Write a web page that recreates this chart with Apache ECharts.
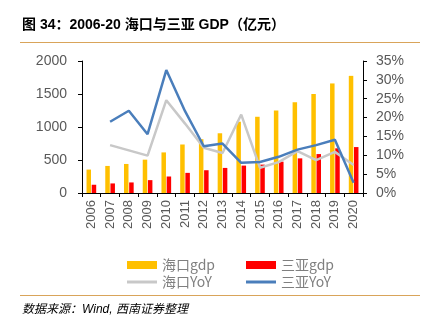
<!DOCTYPE html>
<html><head><meta charset="utf-8">
<script src="https://cdn.jsdelivr.net/npm/echarts@6/dist/echarts.min.js"></script>
<style>html,body{margin:0;padding:0;background:#fff;}#c{width:425px;height:332px;}</style>
</head><body><div id="c"></div>
<script>
const years = ['2006','2007','2008','2009','2010','2011','2012','2013','2014','2015','2016','2017','2018','2019','2020'];
const haikouGdp = [355,410,440,505,615,735,815,905,1080,1155,1250,1375,1500,1660,1775];
const sanyaGdp = [125,145,160,195,250,305,345,380,415,430,475,525,590,677,696];
const haikouYoY = [null,12.7,11.3,9.9,24.6,18.4,12.0,10.6,20.8,6.7,8.2,11.1,8.7,10.9,7.4];
const sanyaYoY = [null,18.9,21.8,15.6,32.6,21.7,12.4,13.1,8.0,8.2,9.6,11.5,12.7,14.1,2.7];
const leftTicks = [0,500,1000,1500,2000];
const rightTicks = [0,5,10,15,20,25,30,35];

const chart = echarts.init(document.getElementById('c'), null, {renderer:'canvas'});
const font = "'Liberation Sans','Noto Sans CJK SC',sans-serif";
const lgFont = "'Noto Sans CJK SC',sans-serif";
const axisLbl = {color:'#595959', fontFamily:font};
const lgText = {color:'#7f7f7f', fontSize:14, fontFamily:lgFont};
chart.setOption({
  animation:false,
  backgroundColor:'#fff',
  graphic:[
    {type:'text', left:22, top:18, style:{text:'图 34：2006-20 海口与三亚 GDP（亿元）', font:"bold 14px 'Liberation Sans','Noto Sans CJK SC',sans-serif", fill:'#000'}},
    {type:'line', shape:{x1:20,y1:42.5,x2:420,y2:42.5}, style:{stroke:'#d9a45a', lineWidth:1}},
    {type:'line', shape:{x1:20,y1:295.5,x2:420,y2:295.5}, style:{stroke:'#d9a45a', lineWidth:1}},
    {type:'text', left:22, top:304, style:{text:'数据来源：Wind, 西南证券整理', font:"italic 12px 'Liberation Sans','Noto Sans CJK SC',sans-serif", fill:'#000'}}
  ],
  grid:{left:82, right:62, top:61, bottom:139},
  legend:[
    {data:['海口gdp'], left:122, top:253, itemWidth:30, itemHeight:8, icon:'rect', textStyle:lgText},
    {data:['三亚gdp'], left:241, top:253, itemWidth:30, itemHeight:8, icon:'rect', textStyle:lgText},
    {data:['海口YoY'], left:122, top:270, itemWidth:30, itemHeight:3, icon:'rect', textStyle:lgText},
    {data:['三亚YoY'], left:241, top:270, itemWidth:30, itemHeight:3, icon:'rect', textStyle:lgText}
  ],
  xAxis:{type:'category', data:years, boundaryGap:true,
    axisLine:{lineStyle:{color:'#000', width:1}},
    axisTick:{show:true, inside:false, length:4, lineStyle:{color:'#000'}},
    axisLabel:Object.assign({rotate:90, fontSize:13, margin:7}, axisLbl)},
  yAxis:[
    {type:'value', min:0, max:2000, interval:500, splitLine:{show:false},
      axisLine:{show:true, lineStyle:{color:'#000'}}, axisTick:{show:true, length:4, lineStyle:{color:'#000'}},
      axisLabel:Object.assign({fontSize:14, margin:15, formatter:v=>leftTicks.includes(v)?String(v):''}, axisLbl)},
    {type:'value', min:0, max:35, interval:5, splitLine:{show:false}, position:'right',
      axisLine:{show:true, lineStyle:{color:'#000'}}, axisTick:{show:true, length:4, lineStyle:{color:'#000'}},
      axisLabel:Object.assign({fontSize:14, margin:13, formatter:v=>rightTicks.includes(v)?v+'%':''}, axisLbl)}
  ],
  series:[
    {name:'海口gdp', type:'bar', data:haikouGdp, barWidth:4.5, barGap:'15%', itemStyle:{color:'#ffc000'}},
    {name:'三亚gdp', type:'bar', data:sanyaGdp, barWidth:4.5, barGap:'15%', itemStyle:{color:'#ff0000'}},
    {name:'海口YoY', type:'line', yAxisIndex:1, data:haikouYoY, showSymbol:false, symbol:'none', lineStyle:{color:'#c8c8c8', width:2.5}, itemStyle:{color:'#c8c8c8'}},
    {name:'三亚YoY', type:'line', yAxisIndex:1, data:sanyaYoY, showSymbol:false, symbol:'none', lineStyle:{color:'#4a7ebb', width:2.5}, itemStyle:{color:'#4a7ebb'}}
  ]
});
</script></body></html>
